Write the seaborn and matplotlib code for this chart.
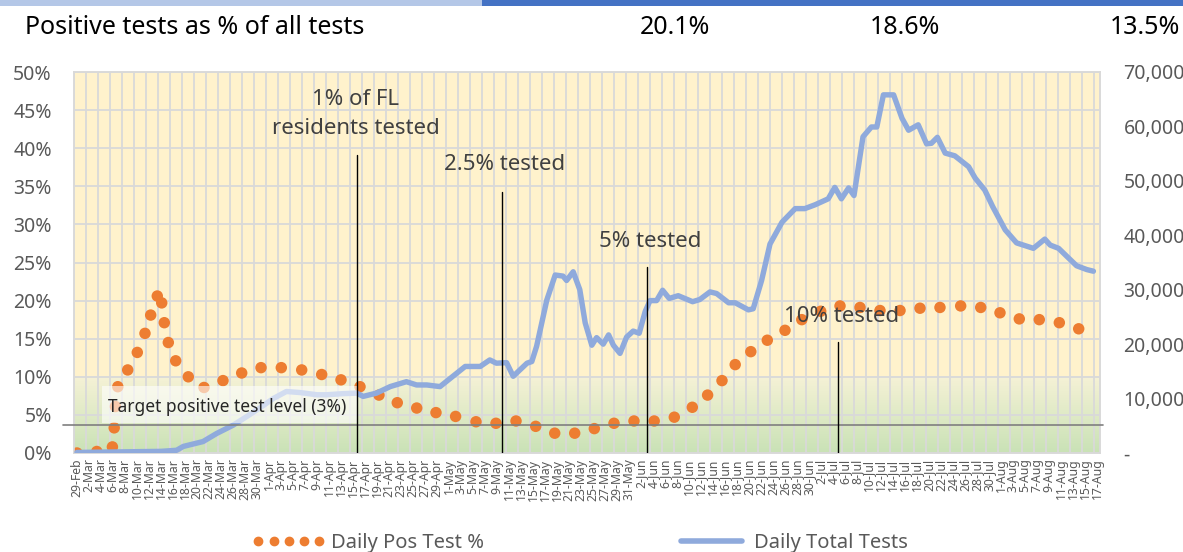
import datetime as dt
import numpy as np
import matplotlib
matplotlib.use("Agg")
import matplotlib.pyplot as plt
import seaborn as sns
from matplotlib.patches import Rectangle
from matplotlib.lines import Line2D
from matplotlib.colors import LinearSegmentedColormap

# ---------------- data (day offsets from 29-Feb-2020) ----------------
pos_day = [0.0, 3.3, 5.9, 6.2, 6.4, 6.8, 8.45, 10.05, 11.33, 12.28, 13.38, 14.12, 14.55,
           15.22, 16.45, 18.55, 21.17, 24.33, 27.45, 30.67, 34.05, 37.45, 40.78, 44.0,
           47.17, 50.33, 53.38, 56.62, 59.83, 63.1, 66.5, 69.83, 73.17, 76.45, 79.62,
           82.95, 86.22, 89.5, 92.83, 96.2, 99.55, 102.55, 105.1, 107.5, 109.7, 112.3,
           115.05, 118.0, 120.8, 123.95, 127.17, 130.5, 133.83, 137.17, 140.5, 143.83,
           147.28, 150.62, 153.83, 157.05, 160.38, 163.72, 166.95]
pos_pct = [0.0, 0.2, 0.8, 3.3, 6.1, 8.7, 10.9, 13.2, 15.7, 18.1, 20.6, 19.7, 17.1,
           14.5, 12.1, 10.0, 8.6, 9.5, 10.5, 11.2, 11.2, 10.9, 10.3, 9.6,
           8.7, 7.6, 6.6, 5.9, 5.3, 4.8, 4.1, 3.9, 4.2, 3.5, 2.6,
           2.6, 3.2, 3.9, 4.2, 4.2, 4.7, 6.0, 7.6, 9.5, 11.6, 13.3,
           14.8, 16.1, 17.5, 18.6, 19.3, 19.1, 18.7, 18.7, 19.0, 19.1,
           19.3, 19.1, 18.4, 17.6, 17.5, 17.1, 16.3]

tests_day = [0, 7, 14, 16.6, 17.7, 21.0, 23.3, 26.0, 28.3, 30.5, 32.7, 34.9, 37.2, 40.0,
             41.6, 44.3, 46.6, 47.7, 49.9, 52.2, 54.9, 56.6, 58.3, 60.5, 62.2, 64.7,
             67.2, 68.8, 69.9, 71.6, 72.7, 75.0, 75.8, 76.6, 78.3, 79.7, 81.0, 81.6,
             82.7, 83.8, 84.7, 85.8, 86.6, 87.7, 88.6, 89.4, 90.5, 91.6, 92.7, 93.7,
             94.7, 95.5, 96.6, 97.6, 98.7, 100.2, 102.6, 103.8, 105.5, 106.6, 108.6,
             109.7, 111.9, 112.7, 114.1, 115.5, 117.5, 119.7, 121.3, 123.0, 125.2,
             126.3, 127.4, 128.6, 129.5, 131.0, 132.4, 133.3, 134.4, 136.1, 137.5,
             138.6, 140.2, 141.6, 142.4, 143.4, 144.7, 146.3, 148.6, 149.7, 151.3,
             152.6, 154.7, 156.6, 159.4, 161.3, 162.2, 163.6, 165.0, 166.6, 168.3, 169.4]
tests_val = [100, 200, 300, 500, 1200, 2100, 3600, 5100, 6700, 8300, 10000, 11300, 11100,
             10700, 10700, 10900, 11000, 10400, 11000, 12200, 13100, 12500, 12500, 12200,
             13700, 15900, 15900, 17100, 16500, 16600, 14100, 16500, 16800, 19600, 28100,
             32700, 32500, 31700, 33300, 30000, 23900, 19800, 21200, 20000, 21700, 19800,
             18300, 21300, 22400, 22000, 26000, 28000, 28000, 29900, 28400, 28900, 27800,
             28200, 29600, 29300, 27600, 27600, 26300, 26500, 31700, 38400, 42400, 44900,
             44900, 45600, 46700, 48800, 46700, 48700, 47300, 58100, 59900, 59900, 65800,
             65800, 61500, 59300, 60300, 56800, 56900, 58000, 55100, 54600, 52600, 50500,
             48300, 45300, 41000, 38600, 37600, 39300, 38200, 37600, 36100, 34400, 33700,
             33400]

start = dt.date(2020, 2, 29)
n_days = 171
tick_days = list(range(0, n_days, 2))
tick_labels = [f"{(start + dt.timedelta(days=d)).day}-{(start + dt.timedelta(days=d)).strftime('%b')}"
               for d in tick_days]

pct_ticks = list(range(0, 51, 5))
tests_ticks = list(range(0, 70001, 10000))

header_values = ["20.1%", "18.6%", "13.5%"]
milestones = ["1% of FL\nresidents tested", "2.5% tested", "5% tested", "10% tested"]
milestone_day = [46.7, 70.8, 95.0, 126.8]
milestone_top = [39.1, 34.2, 24.4, 14.6]
target_level = 3.7

# ---------------- figure ----------------
sns.set_style("white")
plt.rcParams['font.family'] = ['Noto Sans', 'DejaVu Sans']

W, H = 1183, 552
fig = plt.figure(figsize=(W / 100, H / 100), dpi=100)
ax = fig.add_axes([74 / W, 1 - 453 / H, (1100 - 74) / W, (453 - 72) / H])

GRID = '#D9D9D9'
TXT = '#595959'

# background
ax.axhspan(10, 50, color='#FFF2CC', zorder=0, lw=0)
cmap = LinearSegmentedColormap.from_list('g', ['#C9E2B6', '#F6F2D6'])
ax.imshow(np.linspace(0, 1, 256).reshape(-1, 1), extent=[-0.5, 170.5, 0, 10],
          aspect='auto', cmap=cmap, origin='lower', zorder=0)
for y in pct_ticks[1:]:
    ax.axhline(y, color=GRID, lw=1.3, zorder=1)
for d in np.arange(-0.5, 170.5, 2):
    ax.axvline(d, color=GRID, lw=1.3, zorder=1)

ax.set_xlim(-0.5, 170.5)
ax.set_ylim(0, 50)

sns.scatterplot(x=pos_day, y=pos_pct, ax=ax, color='#ED7D31', s=68, edgecolor='none',
                zorder=4, legend=False)

ax2 = ax.twinx()
sns.lineplot(x=tests_day, y=tests_val, ax=ax2, color='#8FAADC', lw=3.9,
             solid_joinstyle='round', solid_capstyle='round', zorder=3, legend=False)
ax2.set_ylim(0, 70000)
ax2.set_xlim(-0.5, 170.5)

for a in (ax, ax2):
    for s in a.spines.values():
        s.set_color(GRID)
        s.set_linewidth(1.2)

ax.set_yticks(pct_ticks)
ax.set_yticklabels([f"{v}%" for v in pct_ticks], fontsize=14, color=TXT)
ax.tick_params(axis='y', length=0, pad=16)
ax.set_xticks(tick_days)
ax.set_xticklabels(tick_labels, rotation=90, fontsize=8.8, color=TXT)
ax.tick_params(axis='x', length=0, pad=4)
ax.set_xlabel('')
ax.set_ylabel('')

ax2.set_yticks(tests_ticks)
ax2.set_yticklabels(["-" if v == 0 else f"{v:,}" for v in tests_ticks], fontsize=14,
                    color=TXT, ha='left')
ax2.tick_params(axis='y', length=0, pad=17)
ax2.set_ylabel('')

# target box + line
ax2.add_patch(Rectangle((4.2, 3.9), 42.5, 4.9, transform=ax.transData, facecolor='white',
                        alpha=0.6, edgecolor='none', zorder=5))
ax2.text(5.2, 6.0, "Target positive test level (3%)", transform=ax.transData,
         fontsize=12.5, color='#262626', va='center', ha='left', zorder=7)
ax2.plot([-2.3, 171.0], [target_level, target_level], transform=ax.transData,
         color='#7F7F7F', lw=1.2, clip_on=False, zorder=6)

# milestones
for d, top in zip(milestone_day, milestone_top):
    ax2.plot([d, d], [0, top], transform=ax.transData, color='black', lw=1.0, zorder=6)
label_pos = [(46.5, 44.5), (71.3, 37.8), (95.5, 27.8), (127.5, 17.85)]
for (x, y), lab in zip(label_pos, milestones):
    ax2.text(x, y, lab, transform=ax.transData, fontsize=16, color='#404040',
             ha='center', va='center', zorder=8, linespacing=1.55)

# header
fig.patches.append(Rectangle((0, 1 - 6 / H), 482 / W, 6 / H, transform=fig.transFigure,
                             facecolor='#B4C7E7', edgecolor='none'))
fig.patches.append(Rectangle((482 / W, 1 - 6 / H), 1 - 482 / W, 6 / H,
                             transform=fig.transFigure, facecolor='#4472C4', edgecolor='none'))
fig.text(25 / W, 1 - 28 / H, "Positive tests as % of all tests", fontsize=18,
         color='black', va='center', ha='left')
for xc, v in zip([675, 905, 1145], header_values):
    fig.text(xc / W, 1 - 28 / H, v, fontsize=18, color='black', va='center', ha='center')

# legend
handles = [Line2D([0], [0], marker='o', ls='none', color='#ED7D31', markersize=6),
           Line2D([0], [0], color='#8FAADC', lw=4, solid_capstyle='round')]
fig.legend(handles, ["Daily Pos Test %", "Daily Total Tests"], loc='center',
           bbox_to_anchor=(580 / W, 1 - 543 / H), ncol=2, frameon=False, numpoints=5,
           handlelength=3.6, columnspacing=9.5, fontsize=14.5, labelcolor=TXT,
           handletextpad=0.3)

fig.savefig("out.png", dpi=100)
